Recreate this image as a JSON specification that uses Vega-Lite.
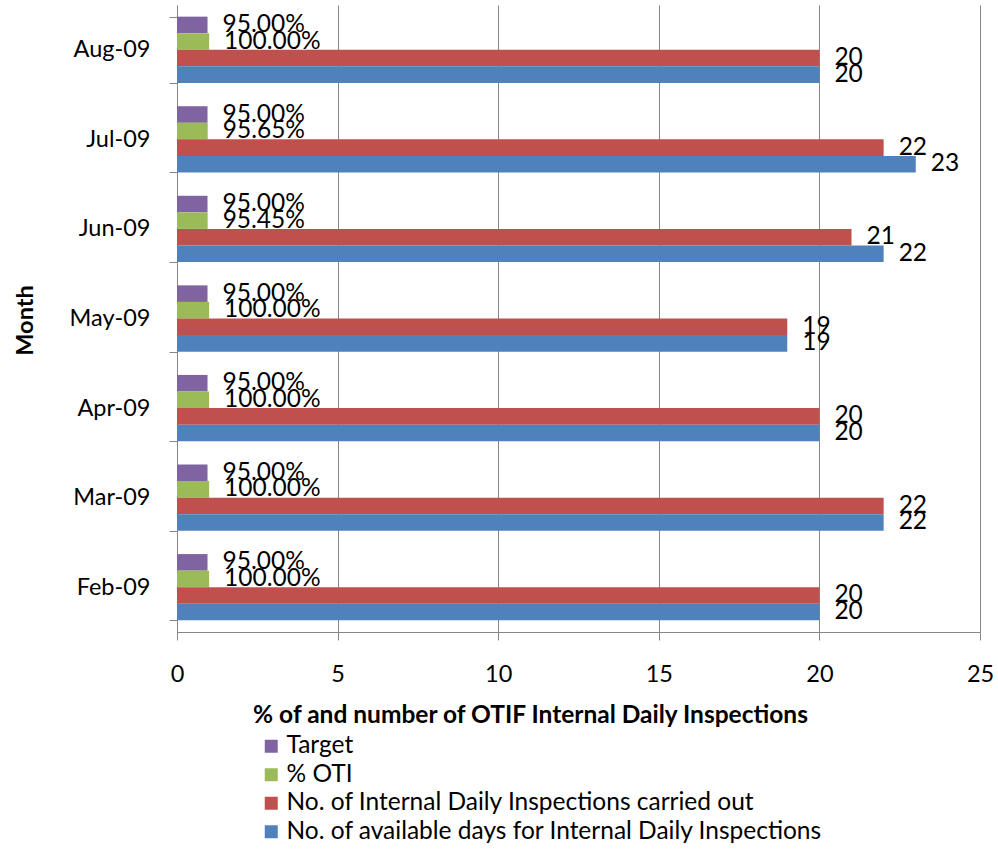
{
  "$schema": "https://vega.github.io/schema/vega-lite/v6.json",
  "width": 803,
  "height": 627,
  "autosize": {"type": "none"},
  "padding": {"left": 177, "top": 5, "right": 18, "bottom": 218},
  "background": "white",
  "config": {
    "view": {"stroke": null},
    "font": "Lato",
    "axis": {"labelFont": "Lato", "titleFont": "Lato", "labelColor": "#000000", "titleColor": "#000000"}
  },
  "data": {
    "values": [
      {"month": "Aug-09", "series": "Target", "value": 0.95, "label": "95.00%"},
      {"month": "Aug-09", "series": "% OTI", "value": 1.0, "label": "100.00%"},
      {"month": "Aug-09", "series": "No. of Internal Daily Inspections carried out", "value": 20, "label": "20"},
      {"month": "Aug-09", "series": "No. of available days for Internal Daily Inspections", "value": 20, "label": "20"},
      {"month": "Jul-09", "series": "Target", "value": 0.95, "label": "95.00%"},
      {"month": "Jul-09", "series": "% OTI", "value": 0.9565, "label": "95.65%"},
      {"month": "Jul-09", "series": "No. of Internal Daily Inspections carried out", "value": 22, "label": "22"},
      {"month": "Jul-09", "series": "No. of available days for Internal Daily Inspections", "value": 23, "label": "23"},
      {"month": "Jun-09", "series": "Target", "value": 0.95, "label": "95.00%"},
      {"month": "Jun-09", "series": "% OTI", "value": 0.9545, "label": "95.45%"},
      {"month": "Jun-09", "series": "No. of Internal Daily Inspections carried out", "value": 21, "label": "21"},
      {"month": "Jun-09", "series": "No. of available days for Internal Daily Inspections", "value": 22, "label": "22"},
      {"month": "May-09", "series": "Target", "value": 0.95, "label": "95.00%"},
      {"month": "May-09", "series": "% OTI", "value": 1.0, "label": "100.00%"},
      {"month": "May-09", "series": "No. of Internal Daily Inspections carried out", "value": 19, "label": "19"},
      {"month": "May-09", "series": "No. of available days for Internal Daily Inspections", "value": 19, "label": "19"},
      {"month": "Apr-09", "series": "Target", "value": 0.95, "label": "95.00%"},
      {"month": "Apr-09", "series": "% OTI", "value": 1.0, "label": "100.00%"},
      {"month": "Apr-09", "series": "No. of Internal Daily Inspections carried out", "value": 20, "label": "20"},
      {"month": "Apr-09", "series": "No. of available days for Internal Daily Inspections", "value": 20, "label": "20"},
      {"month": "Mar-09", "series": "Target", "value": 0.95, "label": "95.00%"},
      {"month": "Mar-09", "series": "% OTI", "value": 1.0, "label": "100.00%"},
      {"month": "Mar-09", "series": "No. of Internal Daily Inspections carried out", "value": 22, "label": "22"},
      {"month": "Mar-09", "series": "No. of available days for Internal Daily Inspections", "value": 22, "label": "22"},
      {"month": "Feb-09", "series": "Target", "value": 0.95, "label": "95.00%"},
      {"month": "Feb-09", "series": "% OTI", "value": 1.0, "label": "100.00%"},
      {"month": "Feb-09", "series": "No. of Internal Daily Inspections carried out", "value": 20, "label": "20"},
      {"month": "Feb-09", "series": "No. of available days for Internal Daily Inspections", "value": 20, "label": "20"}
    ]
  },
  "encoding": {
    "y": {
      "field": "month",
      "type": "nominal",
      "sort": ["Aug-09", "Jul-09", "Jun-09", "May-09", "Apr-09", "Mar-09", "Feb-09"],
      "scale": {"paddingInner": 0.26, "paddingOuter": 0.13},
      "axis": {
        "title": "Month",
        "titleFontSize": 23.5,
        "titleFontWeight": "bold",
        "titleX": -152,
        "titleY": 315,
        "titleAlign": "center",
        "titleBaseline": "middle",
        "titleAngle": -90,
        "labelFontSize": 23.5,
        "labelPadding": 19,
        "tickSize": 8,
        "tickBand": "extent",
        "tickColor": "#868686",
        "domainColor": "#868686",
        "grid": false
      }
    },
    "yOffset": {
      "field": "series",
      "type": "nominal",
      "sort": ["Target", "% OTI", "No. of Internal Daily Inspections carried out", "No. of available days for Internal Daily Inspections"],
      "scale": {"paddingInner": 0, "paddingOuter": 0}
    },
    "x": {
      "field": "value",
      "type": "quantitative",
      "scale": {"domain": [0, 25], "nice": false},
      "axis": {
        "title": "% of and number of OTIF Internal Daily Inspections",
        "titleFontSize": 24.5,
        "titleFontWeight": "bold",
        "titleX": 353,
        "titleY": 83,
        "titleAlign": "center",
        "titleBaseline": "middle",
        "values": [0, 5, 10, 15, 20, 25],
        "labelFontSize": 23.5,
        "labelPadding": 22,
        "labelFlush": false,
        "tickSize": 8,
        "tickColor": "#868686",
        "domainColor": "#868686",
        "grid": true,
        "gridColor": "#868686",
        "gridWidth": 1
      }
    }
  },
  "layer": [
    {
      "mark": {"type": "bar"},
      "encoding": {
        "color": {
          "field": "series",
          "type": "nominal",
          "scale": {
            "domain": ["Target", "% OTI", "No. of Internal Daily Inspections carried out", "No. of available days for Internal Daily Inspections"],
            "range": ["#8064A2", "#9BBB59", "#C0504D", "#4F81BD"]
          },
          "legend": {
            "title": null,
            "orient": "none",
            "legendX": 82,
            "legendY": 729,
            "direction": "vertical",
            "symbolType": "square",
            "symbolSize": 169,
            "symbolStrokeWidth": 0,
            "labelFont": "Lato",
            "labelFontSize": 24.5,
            "labelColor": "#000000",
            "labelOffset": 3,
            "labelLimit": 700,
            "rowPadding": 3.5
          }
        }
      }
    },
    {
      "mark": {"type": "text", "align": "left", "baseline": "middle", "dx": 15, "fontSize": 24.5, "font": "Lato", "color": "#000000"},
      "encoding": {
        "text": {"field": "label", "type": "nominal"}
      }
    }
  ]
}
